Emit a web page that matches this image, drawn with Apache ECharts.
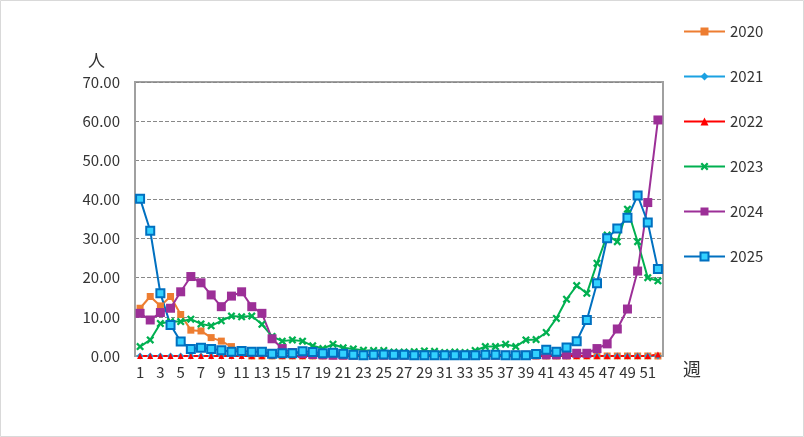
<!DOCTYPE html>
<html>
<head>
<meta charset="utf-8">
<script src="https://cdn.jsdelivr.net/npm/echarts@6/dist/echarts.min.js"></script>
<style>
html,body{margin:0;padding:0;background:#fff;}
#c{width:804px;height:437px;}
</style>
</head>
<body>
<div id="c"></div>
<script>
const weeks = ['1','2','3','4','5','6','7','8','9','10','11','12','13','14','15','16','17','18','19','20','21','22','23','24','25','26','27','28','29','30','31','32','33','34','35','36','37','38','39','40','41','42','43','44','45','46','47','48','49','50','51','52'];
const seriesNames = ['2020','2021','2022','2023','2024','2025'];
const y2020 = [12.2,15.2,12.8,15.2,10.6,6.6,6.4,4.7,3.8,2.4,1.0,0,0,0,0,0,0,0,0,0,0,0,0,0,0,0,0,0,0,0,0,0,0,0,0,0,0,0,0,0,0,0,0,0,0,0,0,0,0,0,0,0];
const y2021 = [0,0,0,0,0,0,0,0,0,0,0,0,0,0,0,0,0,0,0,0,0,0,0,0,0,0,0,0,0,0,0,0,0,0,0,0,0,0,0,0,0,0,0,0,0,0,0,0,0,0,0,0];
const y2022 = [0,0,0,0,0,0,0,0,0,0,0,0,0,0,0,0,0,0,0,0,0,0,0,0,0,0,0,0,0,0,0,0,0,0,0,0,0,0,0,0,0,0,0,0,0,0,0,0,0,0,0,0.4];
const y2023 = [2.4,4.1,8.3,8.8,8.8,9.4,8.2,7.7,9.0,10.2,10.0,10.2,8.1,5.0,3.8,4.1,3.8,2.6,1.9,3.0,2.1,1.8,1.5,1.4,1.4,1.0,1.0,1.1,1.3,1.2,0.9,1.0,0.9,1.4,2.4,2.4,3.0,2.4,4.1,4.2,6.0,9.6,14.5,18.0,16.0,23.7,30.9,29.2,37.5,29.2,20.0,19.2];
const y2024 = [10.9,9.2,11.1,12.2,16.4,20.3,18.7,15.6,12.6,15.3,16.4,12.6,10.9,4.4,1.9,0.9,0.6,0.4,0.3,0.2,0.2,0.2,0.2,0.2,0.2,0.2,0.2,0.2,0.2,0.2,0.2,0.2,0.2,0.2,0.2,0.2,0.2,0.2,0.2,0.3,0.3,0.3,0.3,0.7,0.7,1.9,3.1,6.9,12.0,21.7,39.2,60.3];
const y2025 = [40.2,32.0,16.0,7.9,3.7,1.8,2.1,1.8,1.5,1.1,1.3,1.1,1.1,0.6,0.7,0.7,1.2,1.0,0.7,0.8,0.6,0.3,0.2,0.3,0.4,0.3,0.3,0.2,0.2,0.2,0.2,0.2,0.2,0.2,0.3,0.3,0.2,0.2,0.2,0.5,1.6,1.1,2.2,3.8,9.2,18.6,30.1,32.6,35.3,41.0,34.1,22.2];
const yTicks = [0,10,20,30,40,50,60,70];

const FONT = '"Noto Sans CJK JP", "Noto Sans", sans-serif';
const xPath = 'path://M0,2 L2,0 L5,3 L8,0 L10,2 L7,5 L10,8 L8,10 L5,7 L2,10 L0,8 L3,5 Z';

function mk(name, data, color, symbol, size, extra) {
  return Object.assign({
    name: name, type: 'line', data: data,
    symbol: symbol, symbolSize: size, showAllSymbol: true,
    lineStyle: {color: color, width: 2},
    itemStyle: {color: color},
    animation: false
  }, extra || {});
}

const chart = echarts.init(document.getElementById('c'));
chart.setOption({
  animation: false,
  backgroundColor: '#fff',
  textStyle: {fontFamily: FONT},
  grid: {left: 135, right: 141, top: 82, bottom: 81, show: true, borderColor: '#a0a0a0', borderWidth: 2, containLabel: false},
  legend: {
    orient: 'vertical', left: 678, top: 19, itemWidth: 41, itemHeight: 10, itemGap: 30,
    textStyle: {fontSize: 15, color: '#333', fontFamily: FONT, lineHeight: 15},
    data: seriesNames
  },
  xAxis: {
    type: 'category', data: weeks, boundaryGap: true,
    axisLine: {lineStyle: {color: '#a0a0a0', width: 2}},
    axisTick: {show: false},
    axisLabel: {interval: 1, fontSize: 15, color: '#333', margin: 9, fontFamily: FONT}
  },
  yAxis: {
    type: 'value', min: yTicks[0], max: yTicks[yTicks.length-1], interval: 10,
    axisLine: {show: true, lineStyle: {color: '#a0a0a0', width: 2}},
    axisTick: {show: false},
    axisLabel: {fontSize: 15, color: '#333', margin: 15, fontFamily: FONT, formatter: v => v.toFixed(2)},
    splitLine: {lineStyle: {color: '#888', type: 'dashed', width: 1}}
  },
  graphic: [
    {type: 'rect', shape: {x: 0.5, y: 0.5, width: 803, height: 436}, style: {fill: 'none', stroke: '#d9d9d9', lineWidth: 1}, silent: true},
    {type: 'text', left: 88, top: 52, style: {text: '人', fontSize: 17, fill: '#333', fontFamily: FONT}},
    {type: 'text', left: 683, top: 360, style: {text: '週', fontSize: 18, fill: '#333', fontFamily: FONT}}
  ],
  series: [
    mk('2020', y2020, '#ED7D31', 'rect', 7),
    mk('2021', y2021, '#1BA1E2', 'diamond', 7),
    mk('2022', y2022, '#FF0000', 'triangle', 6),
    mk('2023', y2023, '#00B050', xPath, 8),
    mk('2024', y2024, '#9C2F97', 'rect', 9),
    mk('2025', y2025, '#0070C0', 'rect', 8, {itemStyle: {color: '#33D1FF', borderColor: '#0070C0', borderWidth: 2}})
  ]
});
</script>
</body>
</html>
